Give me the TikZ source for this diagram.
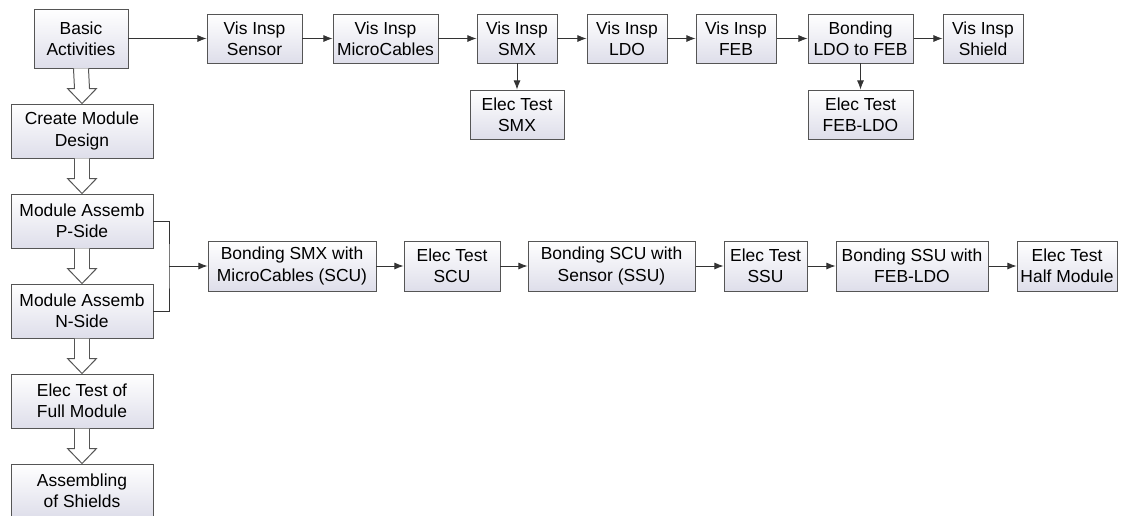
\documentclass[tikz,border=0pt]{standalone}
\usepackage{fontspec}
\setmainfont{Liberation Sans}
\usetikzlibrary{arrows.meta,calc}
\definecolor{edge}{RGB}{85,85,85}
\definecolor{boxlow}{RGB}{222,222,234}
\tikzset{
	box/.style={draw=edge,line width=0.7pt,top color=white,bottom color=boxlow,align=center,inner sep=0pt,
		font=\fontsize{12.4}{15}\selectfont},
	wh/.style 2 args={minimum width=#1*0.025cm,minimum height=#2*0.025cm},
	flow/.style={draw=black!80,line width=0.6pt,-{Latex[length=6.5pt,width=5pt]}},
	hollowline/.style={draw=edge,line width=0.7pt,fill=white,line join=miter}
}
% hollow arrow down between two boxes of the left column
\newcommand{\hollowarrow}[2]{
	\draw[hollowline] ($(#1.south)+(-7.5,0)$) -- ($(#2.north)+(-7.5,-15)$) -- ($(#2.north)+(-14.5,-15)$)
		-- (#2.north) -- ($(#2.north)+(14.5,-15)$) -- ($(#2.north)+(7.5,-15)$) -- ($(#1.south)+(7.5,0)$);
}
\begin{document}
\begin{tikzpicture}[x=0.025cm,y=-0.025cm]
	\useasboundingbox (0,0) rectangle (1125,515);
	% left column
	\node[box,wh={94}{59}] (basic) at (81,38.5) {Basic\\Activities};
	\node[box,wh={142}{54}] (design) at (82,131) {Create Module\\Design};
	\node[box,wh={142}{54}] (pside) at (82,221) {Module Assemb\\P-Side};
	\node[box,wh={142}{54}] (nside) at (82,311) {Module Assemb\\N-Side};
	\node[box,wh={142}{54}] (fulltest) at (82,401) {Elec Test of\\Full Module};
	\node[box,wh={142}{54}] (shields) at (82,491) {Assembling\\of Shields};
	\hollowarrow{basic}{design}
	\hollowarrow{design}{pside}
	\hollowarrow{pside}{nside}
	\hollowarrow{nside}{fulltest}
	\hollowarrow{fulltest}{shields}
	% visual inspection row
	\node[box,wh={95}{49}] (sensor) at (254.5,38.5) {Vis Insp\\Sensor};
	\node[box,wh={105}{49}] (cables) at (385.5,38.5) {Vis Insp\\MicroCables};
	\node[box,wh={80}{49}] (smx) at (517,38.5) {Vis Insp\\SMX};
	\node[box,wh={80}{49}] (ldo) at (627,38.5) {Vis Insp\\LDO};
	\node[box,wh={80}{49}] (feb) at (736,38.5) {Vis Insp\\FEB};
	\node[box,wh={105}{49}] (bondfeb) at (860.5,38.5) {Bonding\\LDO to FEB};
	\node[box,wh={80}{49}] (shield) at (983,38.5) {Vis Insp\\Shield};
	\node[box,wh={94}{49}] (testsmx) at (517,114.5) {Elec Test\\SMX};
	\node[box,wh={105}{49}] (testfeb) at (860.5,114.5) {Elec Test\\FEB-LDO};
	\draw[flow] (basic) -- (sensor);
	\draw[flow] (sensor) -- (cables);
	\draw[flow] (cables) -- (smx);
	\draw[flow] (smx) -- (ldo);
	\draw[flow] (ldo) -- (feb);
	\draw[flow] (feb) -- (bondfeb);
	\draw[flow] (bondfeb) -- (shield);
	\draw[flow] (smx) -- (testsmx);
	\draw[flow] (bondfeb) -- (testfeb);
	% module assembly row
	\node[box,wh={168}{50}] (bondscu) at (292,266) {Bonding SMX with\\MicroCables (SCU)};
	\node[box,wh={96}{50}] (testscu) at (452,266) {Elec Test\\SCU};
	\node[box,wh={167}{50}] (bondssu) at (611.5,266) {Bonding SCU with\\Sensor (SSU)};
	\node[box,wh={83}{50}] (testssu) at (765.5,266) {Elec Test\\SSU};
	\node[box,wh={152}{50}] (bondhalf) at (912,266) {Bonding SSU with\\FEB-LDO};
	\node[box,wh={100}{50}] (halfmod) at (1067,266) {Elec Test\\Half Module};
	\coordinate (join) at (169,266);
	\draw[draw=black!80,line width=0.6pt] (pside.east) -| (join) |- (nside.east);
	\draw[flow] (join) -- (bondscu);
	\draw[flow] (bondscu) -- (testscu);
	\draw[flow] (testscu) -- (bondssu);
	\draw[flow] (bondssu) -- (testssu);
	\draw[flow] (testssu) -- (bondhalf);
	\draw[flow] (bondhalf) -- (halfmod);
\end{tikzpicture}
\end{document}
